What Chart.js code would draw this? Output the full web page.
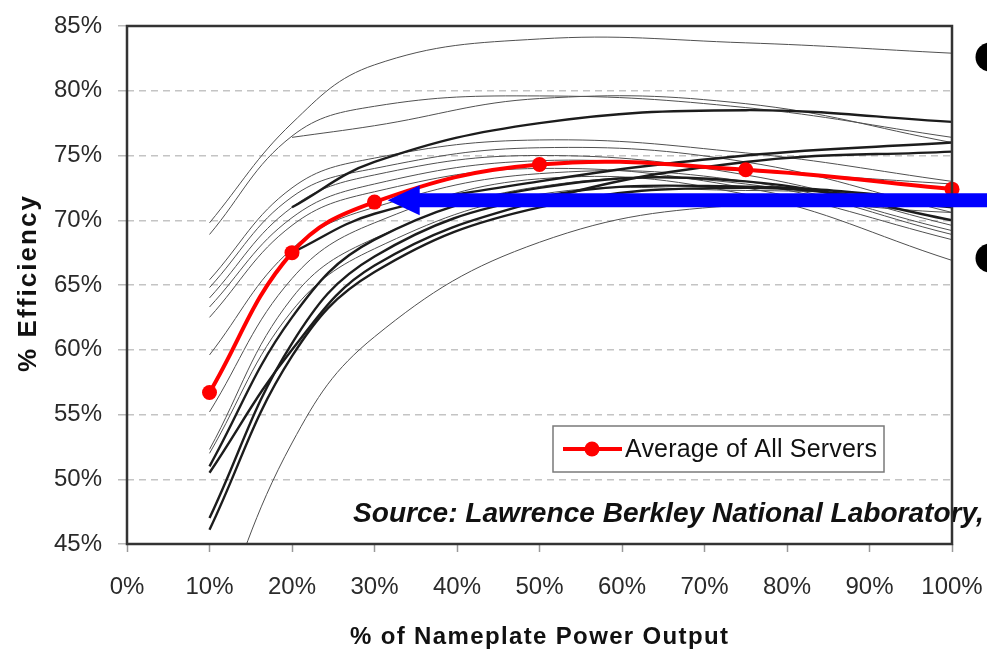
<!DOCTYPE html>
<html><head><meta charset="utf-8">
<script src="https://cdn.jsdelivr.net/npm/chart.js@4.4.1/dist/chart.umd.min.js"></script>
<style>html,body{margin:0;padding:0;background:#fff;overflow:hidden}#wrap{position:relative;width:987px;height:649px}canvas{display:block}</style>
</head><body><div id="wrap"><canvas id="c" width="987" height="649"></canvas></div>
<script>
// ---- data ----
const loadPct = [10, 20, 30, 50, 75, 100];
const xTickValues = [0, 10, 20, 30, 40, 50, 60, 70, 80, 90, 100];
const yTickValues = [45, 50, 55, 60, 65, 70, 75, 80, 85];
const avgAllServers = [56.7, 67.5, 71.4, 74.3, 73.9, 72.4];
// individual servers (thin)
const srvA = [69.8, 77.5, 82.0, 84.0, 83.7, 82.9];
const srvB = [68.9, 76.5, 78.8, 79.6, 78.7, 76.4];
const srvC = [null, 76.4, 77.3, 79.4, 79.0, 76.0];
const srvD = [65.4, 72.5, 74.8, 76.2, 75.2, 73.0];
const srvE = [64.8, 71.8, 74.0, 75.6, 74.5, 70.6];
const srvF = [64.0, 71.0, 73.5, 75.0, 73.5, 69.6];
const srvG = [63.3, 70.2, 72.8, 74.6, 73.8, 72.8];
const srvH = [62.5, 69.6, 72.2, 74.0, 72.5, 68.5];
const srvI = [59.6, 67.8, 71.0, 73.6, 73.0, 69.2];
const srvJ = [55.2, 65.5, 69.8, 73.2, 72.0, 66.9];
const srvK = [52.3, 64.0, 68.6, 72.6, 72.8, 68.9];
const srvL = [52.0, 63.0, 67.8, 72.0, 72.3, 71.8];
const srvM = [37.5, 52.8, 61.0, 68.3, 71.2, 70.6];
// individual servers (heavy)
const srvN = [null, 71.0, 74.5, 77.5, 78.5, 77.6];
const srvO = [50.5, 60.0, 66.5, 71.5, 74.5, 75.3];
const srvP = [46.1, 59.5, 66.0, 71.0, 72.5, 71.0];
const srvQ = [null, 67.5, 70.5, 73.0, 75.0, 76.0];
const srvR = [51.0, 62.5, 68.5, 72.5, 73.0, 70.0];
const srvS = [47.0, 60.5, 67.2, 71.8, 72.6, 71.5];
const thinServers = [srvA, srvB, srvC, srvD, srvE, srvF, srvG, srvH, srvI, srvJ, srvK, srvL, srvM];
const heavyServers = [srvN, srvO, srvP, srvQ, srvR, srvS];
const legendLabel = 'Average of All Servers';
const sourceText = 'Source: Lawrence Berkley National Laboratory,';
const xTitle = '% of Nameplate Power Output';
const yTitle = '% Efficiency';
const arrowAt = { x: 31.6, y: 71.55 };

// ---- build ----
const toXY = arr => loadPct.map((x, i) => ({ x, y: arr[i] }));
const FONT = '"Liberation Sans", Arial, sans-serif';
const datasets = [];
datasets.push({
  label: legendLabel, data: toXY(avgAllServers), borderColor: '#ff0000', backgroundColor: '#ff0000',
  borderWidth: 4, pointRadius: 7.5, pointHoverRadius: 7.5, pointBorderWidth: 0, tension: 0.4, clip: 10
});
heavyServers.forEach(s => datasets.push({
  data: toXY(s), borderColor: '#1c1c1c', borderWidth: 2.4, pointRadius: 0, tension: 0.4, spanGaps: false
}));
thinServers.forEach(s => datasets.push({
  data: toXY(s), borderColor: '#505050', borderWidth: 1, pointRadius: 0, tension: 0.4, spanGaps: false
}));

function spacedText(ctx, text, x, y, targetWidth) {
  ctx.letterSpacing = '0px';
  const w = ctx.measureText(text).width;
  const ls = (targetWidth - w) / (text.length - 1);
  ctx.letterSpacing = ls + 'px';
  ctx.textAlign = 'left';
  ctx.fillText(text, x, y);
  ctx.letterSpacing = '0px';
}
function fittedText(ctx, text, x, y, targetWidth, style) {
  ctx.font = style + ' 20px ' + FONT;
  const w = ctx.measureText(text).width;
  ctx.font = style + ' ' + (20 * targetWidth / w).toFixed(2) + 'px ' + FONT;
  ctx.textAlign = 'left';
  ctx.fillText(text, x, y);
}

const decor = {
  id: 'decor',
  afterDatasetsDraw(chart) {
    const ctx = chart.ctx, a = chart.chartArea;
    const xs = chart.scales.x, ys = chart.scales.y;
    ctx.save();
    // source note
    ctx.fillStyle = '#111';
    ctx.textBaseline = 'alphabetic';
    fittedText(ctx, sourceText, 353, 522, 631, 'italic bold');
    // legend box
    ctx.fillStyle = '#fff';
    ctx.fillRect(553, 426, 331, 46);
    ctx.strokeStyle = '#7a7a7a'; ctx.lineWidth = 1.5;
    ctx.strokeRect(553, 426, 331, 46);
    ctx.strokeStyle = '#ff0000'; ctx.lineWidth = 4;
    ctx.beginPath(); ctx.moveTo(563, 449); ctx.lineTo(622, 449); ctx.stroke();
    ctx.fillStyle = '#ff0000';
    ctx.beginPath(); ctx.arc(592, 449, 7.5, 0, Math.PI * 2); ctx.fill();
    ctx.fillStyle = '#111';
    ctx.font = '25px ' + FONT;
    ctx.textBaseline = 'middle';
    spacedText(ctx, legendLabel, 625, 450, 252);
    // plot border
    ctx.strokeStyle = '#333'; ctx.lineWidth = 2.5;
    ctx.strokeRect(a.left, a.top, a.right - a.left, a.bottom - a.top);
    // arrow
    const tipX = xs.getPixelForValue(arrowAt.x), ay = ys.getPixelForValue(arrowAt.y);
    ctx.fillStyle = '#0000ff';
    ctx.beginPath();
    ctx.moveTo(tipX, ay);
    ctx.lineTo(tipX + 32, ay - 15);
    ctx.lineTo(tipX + 32, ay - 7);
    ctx.lineTo(chart.width, ay - 7);
    ctx.lineTo(chart.width, ay + 7);
    ctx.lineTo(tipX + 32, ay + 7);
    ctx.lineTo(tipX + 32, ay + 15);
    ctx.closePath(); ctx.fill();
    // slide bullets
    ctx.fillStyle = '#000';
    [57, 258].forEach(by => { ctx.beginPath(); ctx.arc(990, by, 14.5, 0, Math.PI * 2); ctx.fill(); });
    // axis titles
    ctx.fillStyle = '#111';
    ctx.font = 'bold 24px ' + FONT;
    ctx.textBaseline = 'middle';
    spacedText(ctx, xTitle, 350, 637, 378);
    ctx.font = 'bold 26px ' + FONT;
    ctx.translate(29, 284);
    ctx.rotate(-Math.PI / 2);
    spacedText(ctx, yTitle, -88, 0, 176);
    ctx.restore();
  }
};

new Chart(document.getElementById('c'), {
  type: 'line',
  data: { datasets },
  plugins: [decor],
  options: {
    responsive: false, animation: false, devicePixelRatio: 1,
    layout: { autoPadding: false, padding: { left: 0, top: 26, right: 35, bottom: 0 } },
    plugins: { legend: { display: false }, tooltip: { enabled: false } },
    scales: {
      x: {
        type: 'linear', min: 0, max: 100,
        afterFit: s => { s.height = 105; s.paddingLeft = 0; s.paddingRight = 0; },
        afterBuildTicks: s => { s.ticks = xTickValues.map(v => ({ value: v })); },
        ticks: { callback: v => v + '%', font: { family: FONT, size: 24 }, color: '#2a2a2a', padding: 21, maxRotation: 0, autoSkip: false },
        grid: { drawOnChartArea: false, drawTicks: true, tickLength: 8, tickColor: '#999', tickWidth: 1.5 },
        border: { display: false }
      },
      y: {
        type: 'linear', min: 45, max: 85,
        afterFit: s => { s.width = 127; s.paddingTop = 0; s.paddingBottom = 0; },
        afterBuildTicks: s => { s.ticks = yTickValues.map(v => ({ value: v })); },
        ticks: { callback: v => v + '%', font: { family: FONT, size: 24 }, color: '#2a2a2a', padding: 16, autoSkip: false },
        grid: { color: '#c4c4c4', lineWidth: 1.5, drawTicks: true, tickLength: 9, tickColor: '#bbb', tickWidth: 1.5 },
        border: { display: false, dash: [7, 5] }
      }
    }
  }
});
</script></body></html>
